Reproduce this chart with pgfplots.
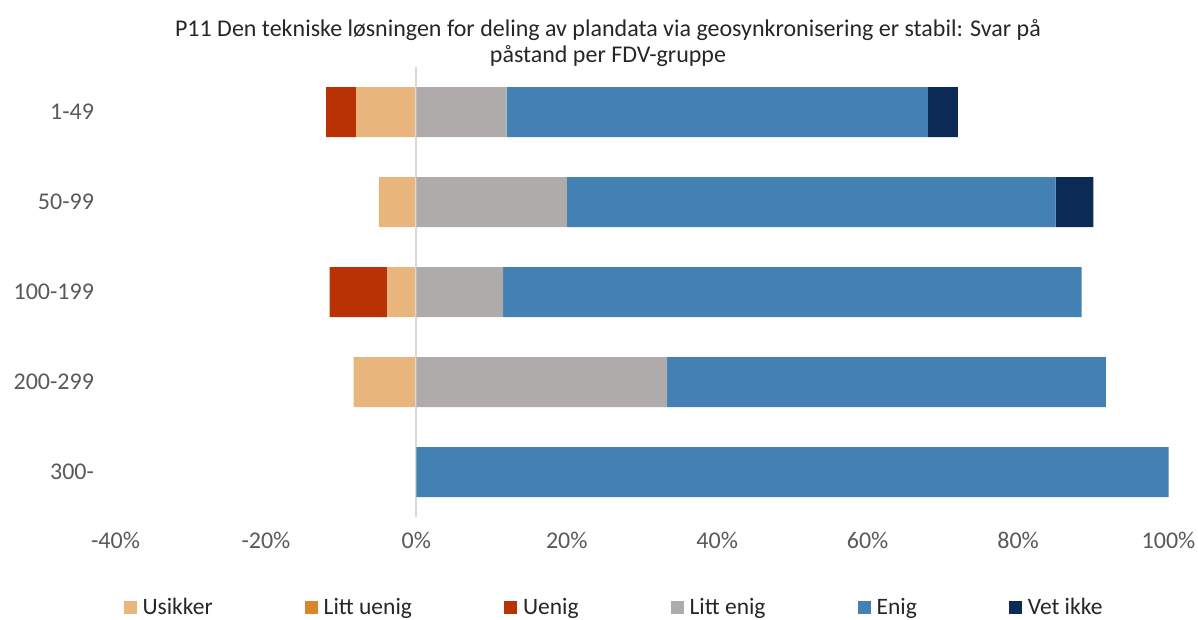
\documentclass[border=0pt]{standalone}
\usepackage{pgfplots}
\pgfplotsset{compat=1.18}
\usepackage{fontspec}
\setmainfont{Carlito}
\definecolor{cUsikker}{HTML}{E8B67C}
\definecolor{cLittUenig}{HTML}{D9862A}
\definecolor{cUenig}{HTML}{B83206}
\definecolor{cLittEnig}{HTML}{AFABAA}
\definecolor{cEnig}{HTML}{4380B4}
\definecolor{cVet}{HTML}{0C2A56}
\definecolor{tickgray}{HTML}{595959}
\definecolor{txt}{HTML}{262626}
\pgfplotsset{
  base/.style={
    anchor=south west, at={(115.5pt,102pt)},
    scale only axis, width=1053pt, height=450pt,
    xmin=-40, xmax=100, ymin=-0.5, ymax=4.5,
    y dir=reverse,
    xbar stacked, bar width=50pt,
    axis line style={draw=none},
    major tick length=0pt,
    font=\fontsize{24}{28}\selectfont,
  },
  bars/.style={draw=none, fill=#1},
}
\begin{document}
\begin{tikzpicture}
\useasboundingbox (0,0) rectangle (1198pt,619pt);
% negative stack
\begin{axis}[base, xtick=\empty, ytick=\empty]
\addplot[bars=cUsikker] coordinates {(-8,0) (-5,1) (-3.85,2) (-8.33,3) (0,4)};
\addplot[bars=cUenig] coordinates {(-4,0) (0,1) (-7.69,2) (0,3) (0,4)};
\end{axis}
% positive stack
\begin{axis}[base,
  xtick={-40,-20,0,20,40,60,80,100},
  xticklabels={-40\%,-20\%,0\%,20\%,40\%,60\%,80\%,100\%},
  ytick={0,1,2,3,4},
  yticklabels={1-49,50-99,100-199,200-299,300-},
  ticklabel style={text=tickgray},
  xticklabel style={yshift=-12pt},
  yticklabel style={xshift=-18pt},
  legend columns=6,
  legend style={at={(0.4734,-0.2)}, anchor=center, draw=none,
    font=\fontsize{23.5}{27}\selectfont, text=txt,
    /tikz/every odd column/.append style={column sep=4pt},
    /tikz/every even column/.append style={column sep=90pt}},
  legend cell align=left,
  legend image code/.code={\fill[#1] (0pt,-6.5pt) rectangle (13pt,6.5pt);},
]
\addlegendimage{fill=cUsikker, draw=none}
\addlegendentry{Usikker}
\addlegendimage{fill=cLittUenig, draw=none}
\addlegendentry{Litt uenig}
\addlegendimage{fill=cUenig, draw=none}
\addlegendentry{Uenig}
\addplot[bars=cLittEnig] coordinates {(12,0) (20,1) (11.54,2) (33.33,3) (0,4)};
\addlegendentry{Litt enig}
\addplot[bars=cEnig] coordinates {(56,0) (65,1) (76.92,2) (58.33,3) (100,4)};
\addlegendentry{Enig}
\addplot[bars=cVet] coordinates {(4,0) (5,1) (0,2) (0,3) (0,4)};
\addlegendentry{Vet ikke}
\draw[color=black!15, line width=2pt] (axis cs:0,-0.5) -- (axis cs:0,4.5);
\end{axis}
\node[align=center, text=txt, font=\fontsize{24}{25.5}\selectfont] at (608pt,576pt)
  {P11 Den tekniske løsningen for deling av plandata via geosynkronisering er stabil: Svar på\\påstand per FDV-gruppe};
\end{tikzpicture}
\end{document}
